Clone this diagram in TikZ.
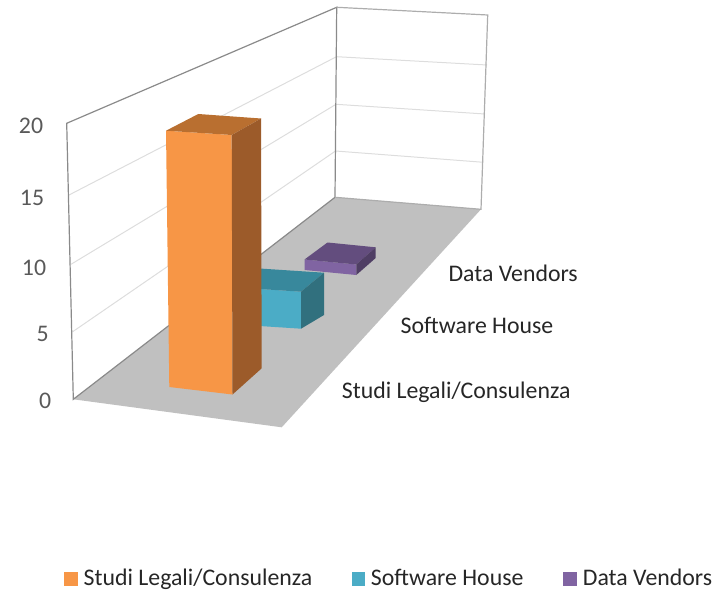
\documentclass[tikz,border=0pt]{standalone}
\usepackage{fontspec}
\setmainfont{Carlito}
\definecolor{orfront}{HTML}{F79646}
\definecolor{ortop}{HTML}{B96F30}
\definecolor{orside}{HTML}{9C5B2A}
\definecolor{tlfront}{HTML}{4BACC6}
\definecolor{tltop}{HTML}{38889C}
\definecolor{tlside}{HTML}{31707E}
\definecolor{pufront}{HTML}{8064A2}
\definecolor{putop}{HTML}{634D7E}
\definecolor{puside}{HTML}{4F3E64}
\definecolor{floorgray}{HTML}{C0C0C0}
\definecolor{gridgray}{HTML}{DDDDDD}
\definecolor{wallgray}{HTML}{8A8A8A}
\definecolor{numgray}{HTML}{595959}
\definecolor{txtdark}{HTML}{262626}
\begin{document}
\begin{tikzpicture}[x=0.5pt,y=-0.5pt,
    wall/.style={draw=wallgray,line width=0.6pt},
    gridln/.style={draw=gridgray,line width=0.5pt},
    numlbl/.style={inner sep=0pt,anchor=base east,text=numgray,font=\fontsize{11.9}{14}\selectfont},
    catlbl/.style={inner sep=0pt,anchor=base,text=txtdark,font=\fontsize{11.9}{14}\selectfont},
    leglbl/.style={inner sep=0pt,anchor=base west,text=txtdark,font=\fontsize{11.9}{14}\selectfont}]
      \useasboundingbox (0,0) rectangle (726,593);
      % floor and walls
      \fill[floorgray] (335,197.3) -- (481,209.3) -- (281.7,427.3) -- (73.3,399.3) -- cycle;
      \draw[gridln] (69,195) -- (336.5,56.7);
      \draw[gridln] (71,264.3) -- (336,104.3);
      \draw[gridln] (72.7,331.7) -- (335.5,151);
      \draw[gridln] (336.5,56.7) -- (487,65);
      \draw[gridln] (336,104.3) -- (485,114);
      \draw[gridln] (335.5,151) -- (483.5,162.3);
      \draw[wall] (73.3,399.3) -- (66.7,123.3) -- (336.7,7.3) -- (335,197.3) -- cycle;
      \draw[wall,draw=wallgray!70] (336.7,7.3) -- (487.7,15) -- (481,209.3) -- (335,197.3);
      % axis values
      \node[numlbl] (n20) at (43.5,133.3) {20};
      \node[numlbl] (n15) at (44.5,205) {15};
      \node[numlbl] (n10) at (46.5,275) {10};
      \node[numlbl] (n5) at (49,341.7) {5};
      \node[numlbl] (n0) at (51.5,408.3) {0};
      % Data Vendors bar
      \fill[pufront] (304.5,259.5) -- (356.3,264.5) -- (356.3,275) -- (304.5,270) -- cycle;
      \fill[putop] (304.5,259.5) -- (327.5,242.5) -- (375.7,247.3) -- (356.3,264.5) -- cycle;
      \fill[puside] (356.3,264.5) -- (375.7,247.3) -- (375.7,258) -- (356.3,275) -- cycle;
      % Software House bar
      \fill[tlfront] (238,287.6) -- (301,291.7) -- (301,328.7) -- (238,324.6) -- cycle;
      \fill[tltop] (238,287.6) -- (261,268.6) -- (324,272.7) -- (301,291.7) -- cycle;
      \fill[tlside] (301,291.7) -- (324,272.7) -- (324,315) -- (301,328.7) -- cycle;
      % Studi Legali/Consulenza bar
      \fill[orfront] (166,130.7) -- (231.7,135) -- (232.5,394.5) -- (169.3,387) -- cycle;
      \fill[ortop] (166,130.7) -- (198.3,114) -- (261,118.5) -- (231.7,135) -- cycle;
      \fill[orside] (231.7,135) -- (261,118.5) -- (261.7,368.3) -- (232.5,394.5) -- cycle;
      % categories
      \node[catlbl] (cDV) at (513.2,281.7) {Data Vendors};
      \node[catlbl] (cSH) at (477,333.3) {Software House};
      \node[catlbl] (cSL) at (456.2,398.3) {Studi Legali/Consulenza};
      % legend
      \fill[orfront] (64.3,572.4) rectangle (77.6,585.7);
      \node[leglbl] (lSL) at (83.3,585.7) {Studi Legali/Consulenza};
      \fill[tlfront] (351.7,572.4) rectangle (365,585.7);
      \node[leglbl] (lSH) at (370.5,585.7) {Software House};
      \fill[pufront] (563.3,572.4) rectangle (576.6,585.7);
      \node[leglbl] (lDV) at (582.5,585.7) {Data Vendors};
\end{tikzpicture}
\end{document}
